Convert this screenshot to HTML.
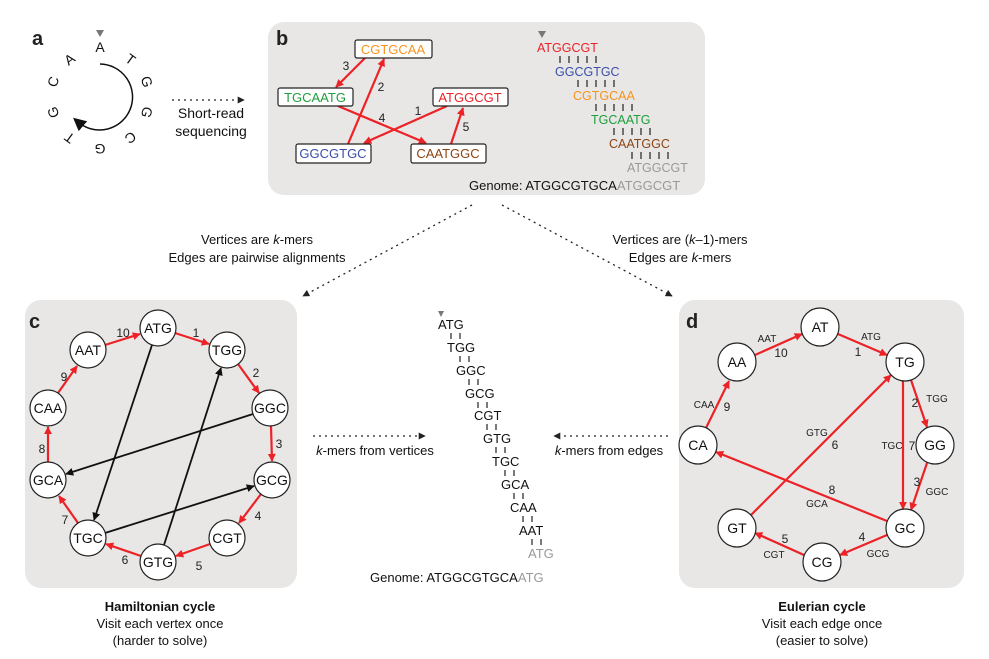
<!DOCTYPE html>
<html><head><meta charset="utf-8"><style>
html,body{margin:0;padding:0;background:#fff;}
svg{display:block;font-family:"Liberation Sans",Arial,sans-serif;}
</style></head><body>
<svg width="989" height="659" viewBox="0 0 989 659" xmlns="http://www.w3.org/2000/svg">
<defs>
<marker id="ar" viewBox="0 0 10 10" refX="9" refY="5" markerWidth="8" markerHeight="8" markerUnits="userSpaceOnUse" orient="auto"><path d="M0,0 L10,5 L0,10 z" fill="#ec2227"/></marker>
<marker id="ak" viewBox="0 0 10 10" refX="9" refY="5" markerWidth="8" markerHeight="8" markerUnits="userSpaceOnUse" orient="auto"><path d="M0,0 L10,5 L0,10 z" fill="#111"/></marker>
<marker id="ad" viewBox="0 0 10 10" refX="9" refY="5" markerWidth="7" markerHeight="7" markerUnits="userSpaceOnUse" orient="auto"><path d="M0,0 L10,5 L0,10 z" fill="#222"/></marker>
<marker id="ab" viewBox="0 0 10 10" refX="5" refY="5" markerWidth="13" markerHeight="13" markerUnits="userSpaceOnUse" orient="auto"><path d="M0,0 L10,5 L0,10 z" fill="#111"/></marker>
</defs>

<rect x="268" y="22" width="437" height="173" rx="16" fill="#e8e7e6"/>
<rect x="25" y="300" width="272" height="288" rx="16" fill="#e8e7e6"/>
<rect x="679" y="300" width="285" height="288" rx="16" fill="#e8e7e6"/>

<g font-weight="bold" font-size="20" fill="#222">
<text x="32" y="45">a</text><text x="276" y="45">b</text>
<text x="29" y="328">c</text><text x="686" y="328">d</text>
</g>

<path d="M100,64 A33,33 0 1 1 78,122" fill="none" stroke="#111" stroke-width="1.5" marker-end="url(#ab)"/>
<path d="M96,30 L104,30 L100,37 z" fill="#777"/>
<g font-size="14" fill="#111" text-anchor="middle">
<text x="100" y="52">A</text>
<text x="130" y="64" transform="rotate(36 130 60)">T</text>
<text x="146" y="86" transform="rotate(72 146 82)">G</text>
<text x="146" y="116" transform="rotate(108 146 112)">G</text>
<text x="130" y="141" transform="rotate(144 130 137)">C</text>
<text x="100" y="152" transform="rotate(180 100 148)">G</text>
<text x="70" y="141" transform="rotate(216 70 137)">T</text>
<text x="54" y="116" transform="rotate(252 54 112)">G</text>
<text x="54" y="86" transform="rotate(288 54 82)">C</text>
<text x="70" y="64" transform="rotate(324 70 60)">A</text>
</g>
<line x1="172" y1="100" x2="244" y2="100" stroke="#222" stroke-width="1.3" stroke-dasharray="2,4" marker-end="url(#ad)"/>
<g font-size="14" fill="#111" text-anchor="middle">
<text x="211" y="118">Short-read</text><text x="211" y="136">sequencing</text>
</g>

<g stroke="#ec2227" stroke-width="2.2" fill="none">
<line x1="365" y1="58" x2="336" y2="87" marker-end="url(#ar)"/>
<line x1="348" y1="144" x2="384" y2="59" marker-end="url(#ar)"/>
<line x1="338" y1="106" x2="426" y2="143" marker-end="url(#ar)"/>
<line x1="447" y1="106" x2="364" y2="143" marker-end="url(#ar)"/>
<line x1="451" y1="144" x2="463" y2="108" marker-end="url(#ar)"/>
</g>
<g font-size="12" fill="#222" text-anchor="middle">
<text x="346" y="70">3</text><text x="381" y="91">2</text><text x="382" y="122">4</text><text x="418" y="115">1</text><text x="466" y="131">5</text>
</g>
<g stroke="#222" stroke-width="1.2" fill="#fff">
<rect x="355" y="40" width="77" height="18" rx="2"/>
<rect x="278" y="88" width="75" height="18" rx="2"/>
<rect x="433" y="88" width="75" height="18" rx="2"/>
<rect x="296" y="144" width="75" height="19" rx="2"/>
<rect x="411" y="144" width="75" height="19" rx="2"/>
</g>
<g font-size="13" text-anchor="middle">
<text x="393" y="54" fill="#f7931e">CGTGCAA</text>
<text x="315" y="102" fill="#1e9e3c">TGCAATG</text>
<text x="470" y="102" fill="#ec2227">ATGGCGT</text>
<text x="333" y="158" fill="#3a4eaa">GGCGTGC</text>
<text x="448" y="158" fill="#8b4513">CAATGGC</text>
</g>

<path d="M538,31 L546,31 L542,38 z" fill="#777"/>
<g font-size="12.5">
<text x="537" y="52" fill="#ec2227">ATGGCGT</text>
<text x="555" y="76" fill="#3a4eaa">GGCGTGC</text>
<text x="573" y="100" fill="#f7931e">CGTGCAA</text>
<text x="591" y="124" fill="#1e9e3c">TGCAATG</text>
<text x="609" y="148" fill="#8b4513">CAATGGC</text>
<text x="627" y="172" fill="#999">ATGGCGT</text>
</g>
<g stroke="#222" stroke-width="1.2">
<path d="M560,56v7M569,56v7M578,56v7M587,56v7M596,56v7"/>
<path d="M578,80v7M587,80v7M596,80v7M605,80v7M614,80v7"/>
<path d="M596,104v7M605,104v7M614,104v7M623,104v7M632,104v7"/>
<path d="M614,128v7M623,128v7M632,128v7M641,128v7M650,128v7"/>
<path d="M632,152v7M641,152v7M650,152v7M659,152v7M668,152v7"/>
</g>
<text x="469" y="190" font-size="13" fill="#111">Genome: ATGGCGTGCA<tspan fill="#999">ATGGCGT</tspan></text>

<line x1="472" y1="205" x2="303" y2="296" stroke="#222" stroke-width="1.3" stroke-dasharray="2,4" marker-end="url(#ad)"/>
<line x1="502" y1="205" x2="672" y2="296" stroke="#222" stroke-width="1.3" stroke-dasharray="2,4" marker-end="url(#ad)"/>
<g font-size="13" fill="#111" text-anchor="middle">
<text x="257" y="244">Vertices are <tspan font-style="italic">k</tspan>-mers</text>
<text x="257" y="262">Edges are pairwise alignments</text>
<text x="680" y="244">Vertices are (<tspan font-style="italic">k</tspan>–1)-mers</text>
<text x="680" y="262">Edges are <tspan font-style="italic">k</tspan>-mers</text>
</g>

<g stroke="#ec2227" stroke-width="2.2" fill="none">
<line x1="175" y1="333" x2="209" y2="344" marker-end="url(#ar)"/>
<line x1="238" y1="364" x2="259" y2="393" marker-end="url(#ar)"/>
<line x1="271" y1="426" x2="272" y2="461" marker-end="url(#ar)"/>
<line x1="261" y1="494" x2="239" y2="523" marker-end="url(#ar)"/>
<line x1="210" y1="544" x2="176" y2="556" marker-end="url(#ar)"/>
<line x1="141" y1="556" x2="106" y2="544" marker-end="url(#ar)"/>
<line x1="78" y1="523" x2="59" y2="496" marker-end="url(#ar)"/>
<line x1="48" y1="462" x2="48" y2="427" marker-end="url(#ar)"/>
<line x1="58" y1="393" x2="77" y2="366" marker-end="url(#ar)"/>
<line x1="105" y1="345" x2="140" y2="334" marker-end="url(#ar)"/>
</g>
<g stroke="#111" stroke-width="1.8" fill="none">
<line x1="152" y1="345" x2="94" y2="520" marker-end="url(#ak)"/>
<line x1="164" y1="545" x2="221" y2="368" marker-end="url(#ak)"/>
<line x1="253" y1="414" x2="66" y2="474" marker-end="url(#ak)"/>
<line x1="105" y1="533" x2="254" y2="486" marker-end="url(#ak)"/>
</g>
<g font-size="12" fill="#222" text-anchor="middle">
<text x="196" y="337">1</text><text x="256" y="377">2</text><text x="279" y="448">3</text><text x="258" y="520">4</text><text x="199" y="570">5</text><text x="125" y="564">6</text><text x="65" y="524">7</text><text x="42" y="453">8</text><text x="64" y="381">9</text><text x="123" y="337">10</text>
</g>
<g stroke="#222" stroke-width="1.2" fill="#fff">
<circle cx="158" cy="328" r="18"/><circle cx="227" cy="350" r="18"/><circle cx="270" cy="408" r="18"/><circle cx="272" cy="480" r="18"/><circle cx="227" cy="538" r="18"/><circle cx="158" cy="562" r="18"/><circle cx="88" cy="538" r="18"/><circle cx="48" cy="480" r="18"/><circle cx="48" cy="408" r="18"/><circle cx="88" cy="350" r="18"/>
</g>
<g font-size="14" fill="#111" text-anchor="middle">
<text x="158" y="333">ATG</text><text x="227" y="355">TGG</text><text x="270" y="413">GGC</text><text x="272" y="485">GCG</text><text x="227" y="543">CGT</text><text x="158" y="567">GTG</text><text x="88" y="543">TGC</text><text x="48" y="485">GCA</text><text x="48" y="413">CAA</text><text x="88" y="355">AAT</text>
</g>
<g font-size="13" fill="#111" text-anchor="middle">
<text x="160" y="611" font-weight="bold">Hamiltonian cycle</text>
<text x="160" y="628">Visit each vertex once</text>
<text x="160" y="645">(harder to solve)</text>
</g>

<path d="M438,311 L444,311 L441,317 z" fill="#777"/>
<g font-size="13" fill="#111">
<text x="438" y="329">ATG</text><text x="447" y="352">TGG</text><text x="456" y="375">GGC</text><text x="465" y="398">GCG</text><text x="474" y="420">CGT</text><text x="483" y="443">GTG</text><text x="492" y="466">TGC</text><text x="501" y="489">GCA</text><text x="510" y="512">CAA</text><text x="519" y="535">AAT</text><text x="528" y="558" fill="#999">ATG</text>
</g>
<g stroke="#222" stroke-width="1.2">
<path d="M451,333v6M460,333v6M460,356v6M469,356v6M469,379v6M478,379v6M478,402v6M487,402v6M487,424v6M496,424v6M496,447v6M505,447v6M505,470v6M514,470v6M514,493v6M523,493v6M523,516v6M532,516v6M532,539v6M541,539v6"/>
</g>
<text x="370" y="582" font-size="13" fill="#111">Genome: ATGGCGTGCA<tspan fill="#999">ATG</tspan></text>
<line x1="313" y1="436" x2="425" y2="436" stroke="#222" stroke-width="1.3" stroke-dasharray="2,4" marker-end="url(#ad)"/>
<line x1="668" y1="436" x2="554" y2="436" stroke="#222" stroke-width="1.3" stroke-dasharray="2,4" marker-end="url(#ad)"/>
<g font-size="13" fill="#111" text-anchor="middle">
<text x="375" y="455"><tspan font-style="italic">k</tspan>-mers from vertices</text>
<text x="609" y="455"><tspan font-style="italic">k</tspan>-mers from edges</text>
</g>

<g stroke="#ec2227" stroke-width="2.2" fill="none">
<line x1="755" y1="355" x2="802" y2="334" marker-end="url(#ar)"/>
<line x1="838" y1="334" x2="887" y2="355" marker-end="url(#ar)"/>
<line x1="911" y1="380" x2="927" y2="427" marker-end="url(#ar)"/>
<line x1="927" y1="463" x2="911" y2="510" marker-end="url(#ar)"/>
<line x1="903" y1="381" x2="903" y2="509" marker-end="url(#ar)"/>
<line x1="887" y1="535" x2="840" y2="555" marker-end="url(#ar)"/>
<line x1="804" y1="555" x2="755" y2="533" marker-end="url(#ar)"/>
<line x1="751" y1="515" x2="891" y2="375" marker-end="url(#ar)"/>
<line x1="887" y1="521" x2="716" y2="452" marker-end="url(#ar)"/>
<line x1="706" y1="428" x2="729" y2="381" marker-end="url(#ar)"/>
</g>
<g font-size="10" fill="#222" text-anchor="middle">
<text x="767" y="342">AAT</text><text x="871" y="340">ATG</text><text x="937" y="402">TGG</text><text x="937" y="495">GGC</text><text x="892" y="449">TGC</text><text x="817" y="436">GTG</text><text x="817" y="507">GCA</text><text x="878" y="557">GCG</text><text x="774" y="558">CGT</text><text x="704" y="408">CAA</text>
</g>
<g font-size="12" fill="#222" text-anchor="middle">
<text x="781" y="357">10</text><text x="858" y="356">1</text><text x="915" y="407">2</text><text x="917" y="486">3</text><text x="912" y="450">7</text><text x="835" y="449">6</text><text x="832" y="494">8</text><text x="862" y="541">4</text><text x="785" y="543">5</text><text x="727" y="411">9</text>
</g>
<g stroke="#222" stroke-width="1.2" fill="#fff">
<circle cx="820" cy="327" r="19"/><circle cx="905" cy="362" r="19"/><circle cx="935" cy="445" r="19"/><circle cx="905" cy="528" r="19"/><circle cx="822" cy="562" r="19"/><circle cx="737" cy="528" r="19"/><circle cx="698" cy="445" r="19"/><circle cx="737" cy="362" r="19"/>
</g>
<g font-size="14" fill="#111" text-anchor="middle">
<text x="820" y="332">AT</text><text x="905" y="367">TG</text><text x="935" y="450">GG</text><text x="905" y="533">GC</text><text x="822" y="567">CG</text><text x="737" y="533">GT</text><text x="698" y="450">CA</text><text x="737" y="367">AA</text>
</g>
<g font-size="13" fill="#111" text-anchor="middle">
<text x="822" y="611" font-weight="bold">Eulerian cycle</text>
<text x="822" y="628">Visit each edge once</text>
<text x="822" y="645">(easier to solve)</text>
</g>
</svg>
</body></html>
